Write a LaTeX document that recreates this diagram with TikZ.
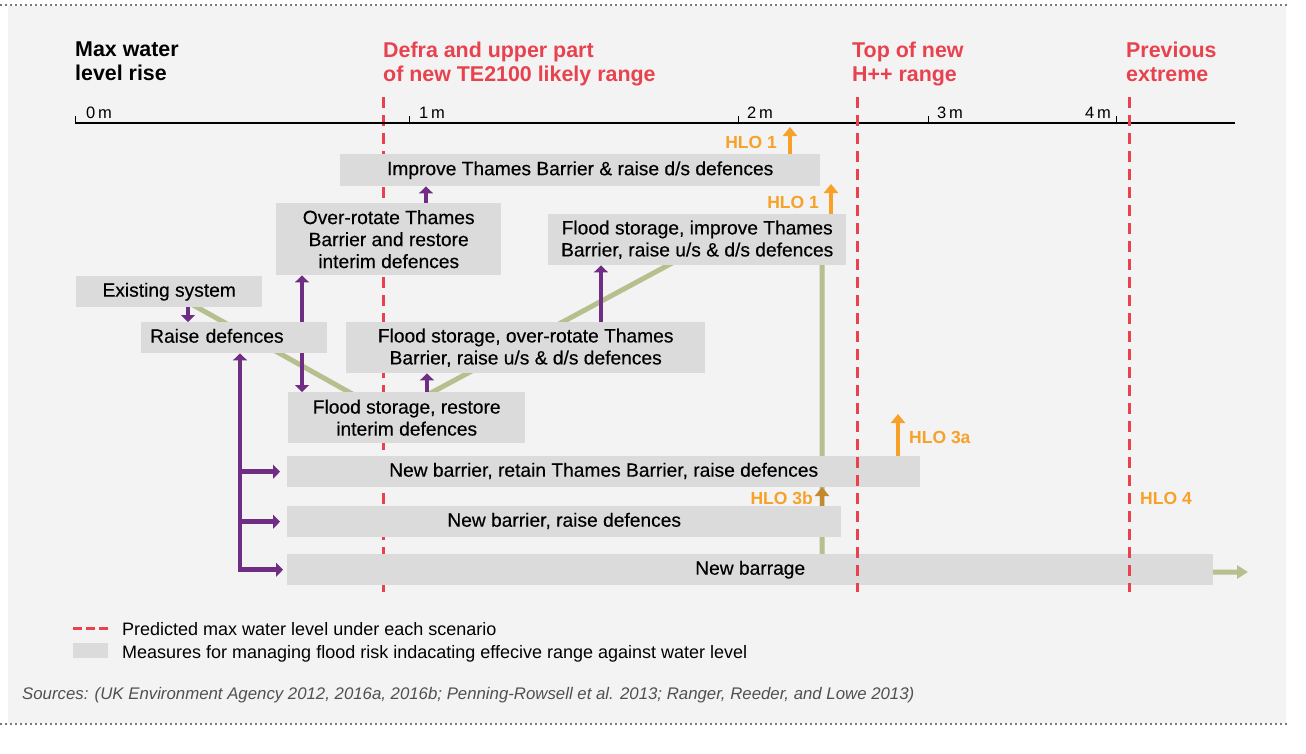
\documentclass[tikz,border=0pt]{standalone}
\usepackage{fontspec}
\setmainfont{Liberation Sans}
\newfontfamily\boxfamily[FakeBold=0.35]{Liberation Sans}
\usetikzlibrary{arrows.meta,calc}

\definecolor{panel}{HTML}{F3F3F3}
\definecolor{boxgray}{HTML}{DADBDA}
\definecolor{levelred}{HTML}{E8424F}
\definecolor{hlo}{HTML}{F7A128}
\definecolor{hlodark}{HTML}{C4892C}
\definecolor{route}{HTML}{6F2D84}
\definecolor{pathway}{HTML}{B5C08E}
\definecolor{dotgray}{HTML}{4A4A4A}
\definecolor{srcgray}{HTML}{505050}

\newcommand\fBox{\boxfamily\fontsize{19.2}{22}\selectfont}
\newcommand\fHead{\fontsize{21.4}{24}\selectfont\bfseries}
\newcommand\fTick{\fontsize{16.5}{18}\selectfont}
\newcommand\fHlo{\fontsize{17.5}{18}\selectfont\bfseries}
\newcommand\fLeg{\fontsize{18}{20}\selectfont}
\newcommand\fSrc{\fontsize{16.8}{20}\selectfont\itshape}

\pgfdeclarelayer{panel}
\pgfdeclarelayer{links}
\pgfdeclarelayer{front}
\pgfsetlayers{panel,links,main,front}

\begin{document}
\begin{tikzpicture}[x=1pt,y=-1pt,
  measure/.style={fill=boxgray, inner sep=0pt, anchor=north west, font=\fBox,
                  text height=14pt, text depth=4pt},
  measure2/.style={fill=boxgray, inner sep=0pt, anchor=north west, font=\fBox, align=center},
  head/.style={anchor=north west, inner sep=0pt, font=\fHead, align=left},
  ticklabel/.style={inner sep=0pt, font=\fTick, anchor=base west},
  hlolabel/.style={inner sep=0pt, font=\fHlo, text=hlo},
  level/.style={draw=levelred, line width=3pt, dash pattern=on 11pt off 7pt},
  dotrule/.style={draw=dotgray, line width=2.4pt, line cap=round, dash pattern=on 0pt off 5pt},
  pa/.style={draw=route, line width=4.5pt, -{Triangle[width=14pt,length=7pt]}},
  pa2/.style={draw=route, line width=4.5pt, {Triangle[width=14pt,length=7pt]}-{Triangle[width=14pt,length=7pt]}},
  oa/.style={draw=hlo, line width=4pt, -{Triangle[width=14pt,length=9pt]}},
  ga/.style={draw=pathway, line width=5pt, -{Triangle[width=13pt,length=11pt]}},
]
\useasboundingbox (0,0) rectangle (1306,753);

% panel and dotted rules
\begin{pgfonlayer}{panel}
  \fill[white] (0,0) rectangle (1306,753);
  \fill[panel] (8,6) rectangle (1286,723);
  \draw[dotrule] (1,5) -- (1289,5);
  \draw[dotrule] (1,724) -- (1289,724);
\end{pgfonlayer}

% column headings
\node[head] (hmax) at (75,42) {Max water\\level rise};
\node[head, text=levelred] (hdefra) at (383,42) {Defra and upper part\\of new TE2100 likely range};
\node[head, text=levelred] (htop) at (852,42) {Top of new\\H++ range};
\node[head, text=levelred] (hprev) at (1126,42) {Previous\\extreme};

% water level axis
\draw[line width=1.2pt] (75,123) -- (1235,123);
\foreach \tx in {75,409,738,928,1116} \draw[line width=1pt] (\tx,123) -- (\tx,116);
\node[ticklabel] (t0) at (86,118) {0\,m};
\node[ticklabel] (t1) at (419,118) {1\,m};
\node[ticklabel] (t2) at (747,118) {2\,m};
\node[ticklabel] (t3) at (937,118) {3\,m};
\node[ticklabel, anchor=base east] (t4) at (1111,118) {4\,m};

% measures
\node[measure, minimum width=480pt, minimum height=32pt] (imp) at (340,154)
  {Improve Thames Barrier \& raise d/s defences};
\node[measure2, minimum width=225pt, minimum height=72pt] (orot) at (276,203)
  {Over-rotate Thames\\Barrier and restore\\interim defences};
\node[measure, minimum width=186pt, minimum height=31pt] (exist) at (76,276)
  {Existing system};
\node[measure, minimum height=31pt, text width=168pt, inner xsep=9pt, align=left] (raise) at (141,322)
  {Raise defences};
\node[measure2, minimum width=359pt, minimum height=51pt] (fsor) at (346,322)
  {Flood storage, over-rotate Thames\\Barrier, raise u/s \& d/s defences};
\node[measure2, minimum width=298pt, minimum height=51pt] (fsimp) at (548,214)
  {Flood storage, improve Thames\\Barrier, raise u/s \& d/s defences};
\node[measure2, minimum width=237pt, minimum height=51pt] (fsrest) at (288,392)
  {Flood storage, restore\\interim defences};
\node[measure, minimum width=633pt, minimum height=31pt] (nbret) at (287,456)
  {New barrier, retain Thames Barrier, raise defences};
\node[measure, minimum width=554pt, minimum height=31pt] (nbraise) at (287,506)
  {New barrier, raise defences};
\node[measure, minimum width=926pt, minimum height=31pt] (barrage) at (287,554)
  {New barrage};

% adaptation pathway and routes between measures
\coordinate (gv) at (390,415);
\coordinate (gup) at (700,248);
\coordinate (gturn) at (822,248);
\coordinate (gdown) at (822,572);
\coordinate (gend) at (1248,572);
\coordinate (trunk) at (240,0);
\begin{pgfonlayer}{links}
  \draw[level] (383,97) -- (383,592);
  \draw[ga] (exist.center) -- (gv) -- (gup) -- (gturn) -- (gdown) -- (gend);
  \draw[pa] (exist.south -| 188,0) -- (raise.north -| 188,0);
  \draw[pa2] (orot.south -| 302,0) -- (fsrest.north -| 302,0);
  \draw[pa2, shorten >=4pt] (raise.south -| trunk) |- (barrage.west);
  \draw[pa, shorten >=7pt] (nbret.west -| trunk) -- (nbret.west);
  \draw[pa, shorten >=7pt] (nbraise.west -| trunk) -- (nbraise.west);
  \draw[pa] (fsrest.north -| 427,0) -- (fsor.south -| 427,0);
  \draw[pa] (orot.north -| 426,0) -- (imp.south -| 426,0);
  \draw[pa] (fsor.north -| 601,0) -- (fsimp.south -| 601,0);
\end{pgfonlayer}

% thresholds and high level options
\coordinate (hlo1a) at (790,127);
\coordinate (hlo1b) at (831,184);
\coordinate (hlo3a) at (898,414);
\coordinate (hlo3b) at (822,487);
\begin{pgfonlayer}{front}
  \draw[level] (857,97) -- (857,592);
  \draw[level] (1129,97) -- (1129,592);
  \draw[oa] (imp.north -| hlo1a) -- (hlo1a);
  \draw[oa] (fsimp.north -| hlo1b) -- (hlo1b);
  \draw[oa] (nbret.north -| hlo3a) -- (hlo3a);
  \draw[oa, draw=hlodark] (nbraise.north -| hlo3b) -- (hlo3b);
\end{pgfonlayer}
\node[hlolabel, anchor=east] (l1a) at (777,142) {HLO 1};
\node[hlolabel, anchor=east] (l1b) at (819,202) {HLO 1};
\node[hlolabel, anchor=west] (l3a) at (909,437) {HLO 3a};
\node[hlolabel, anchor=east] (l3b) at (813,498) {HLO 3b};
\node[hlolabel, anchor=west] (l4) at (1140,498) {HLO 4};

% legend
\draw[levelred, line width=3pt, dash pattern=on 9pt off 4pt] (73,628) -- (108,628);
\fill[boxgray] (73,643) rectangle (108,658);
\node[font=\fLeg, anchor=west, inner sep=0pt] (leg1) at (122,629)
  {Predicted max water level under each scenario};
\node[font=\fLeg, anchor=west, inner sep=0pt] (leg2) at (122,654)
  {Measures for managing flood risk indacating effecive range against water level};
\node[font=\fSrc, text=srcgray, anchor=west, inner sep=0pt] (src) at (22,695)
  {Sources: (UK Environment Agency 2012, 2016a, 2016b; Penning-Rowsell et al. 2013; Ranger, Reeder, and Lowe 2013)};
\end{tikzpicture}
\end{document}
